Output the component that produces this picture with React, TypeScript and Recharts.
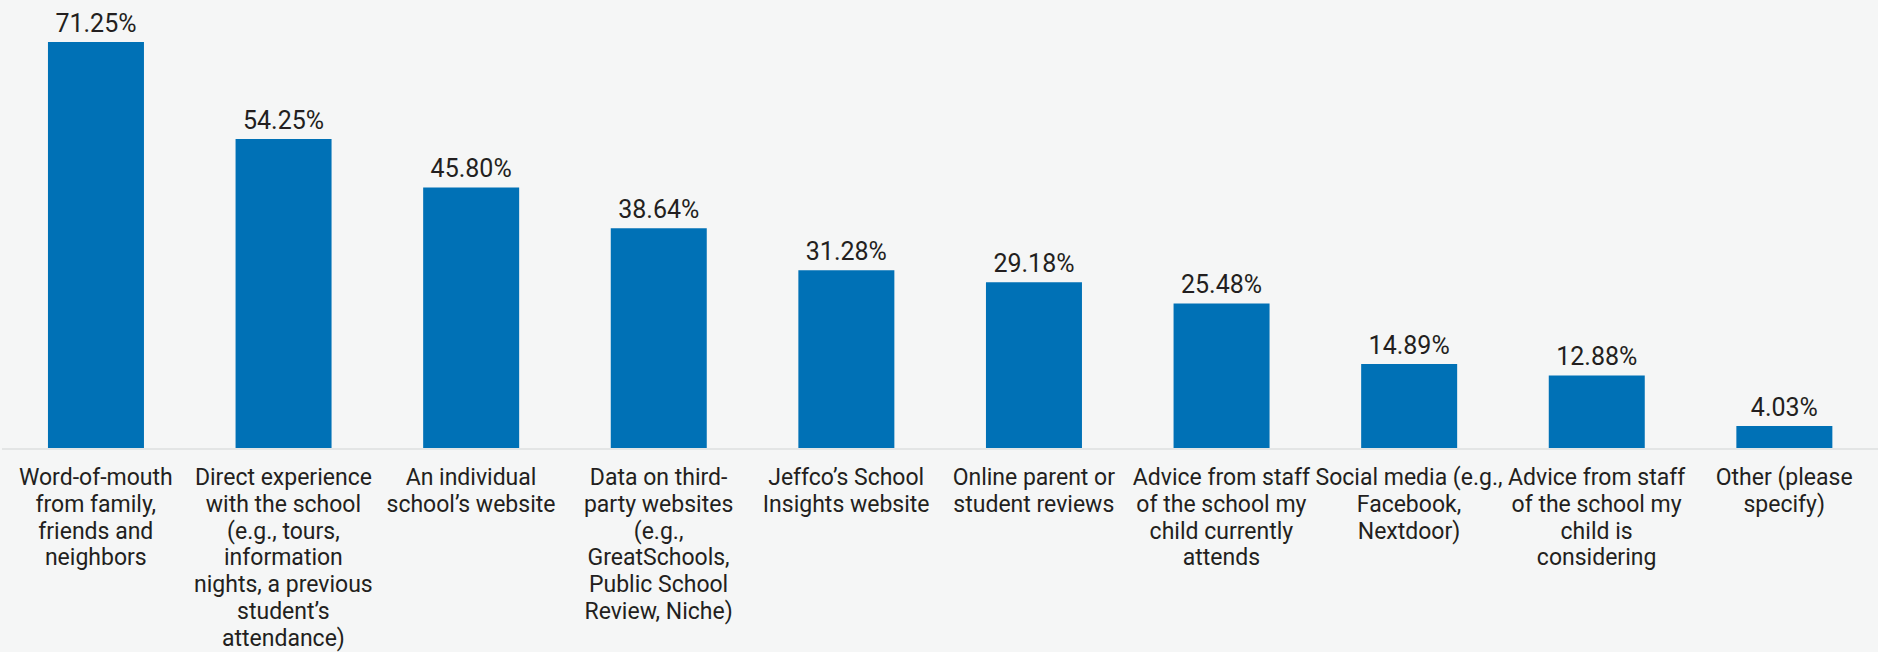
import React from "react";
import { BarChart, Bar, XAxis, YAxis, LabelList } from "recharts";

const categories: string[] = [
  "Word-of-mouth\nfrom family,\nfriends and\nneighbors",
  "Direct experience\nwith the school\n(e.g., tours,\ninformation\nnights, a previous\nstudent’s\nattendance)",
  "An individual\nschool’s website",
  "Data on third-\nparty websites\n(e.g.,\nGreatSchools,\nPublic School\nReview, Niche)",
  "Jeffco’s School\nInsights website",
  "Online parent or\nstudent reviews",
  "Advice from staff\nof the school my\nchild currently\nattends",
  "Social media (e.g.,\nFacebook,\nNextdoor)",
  "Advice from staff\nof the school my\nchild is\nconsidering",
  "Other (please\nspecify)",
];

const percentages: number[] = [71.25, 54.25, 45.8, 38.64, 31.28, 29.18, 25.48, 14.89, 12.88, 4.03];

const data = categories.map((c, i) => ({ category: c, value: percentages[i] }));

const FONT = "Roboto, 'Noto Sans', sans-serif";
const TEXT = "#231f20";

const Tick = (props: any) => {
  const { x, y, payload } = props;
  const lines = String(payload.value).split("\n");
  return (
    <g transform={`translate(${x},${y})`}>
      <text textAnchor="middle" fontFamily={FONT} fontSize={23} fill={TEXT}>
        {lines.map((l, i) => (
          <tspan key={i} x={0} dy={i === 0 ? 28 : 26.8}>
            {l}
          </tspan>
        ))}
      </text>
    </g>
  );
};

export default function App() {
  return (
    <div
      style={{
        position: "absolute",
        left: 0,
        top: 0,
        width: 1878,
        height: 652,
        background: "#f5f6f6",
        overflow: "hidden",
      }}
    >
      <BarChart
        width={1878}
        height={652}
        data={data}
        margin={{ top: 42, right: 0, left: 2, bottom: 0 }}
        barCategoryGap="24.5%"
      >
        <XAxis
          dataKey="category"
          interval={0}
          tickLine={false}
          axisLine={{ stroke: "#e3e5e5", strokeWidth: 2 }}
          height={203}
          tick={<Tick />}
        />
        <YAxis hide domain={[0, 71.25]} />
        <Bar dataKey="value" fill="#0071b6" isAnimationActive={false}>
          <LabelList
            dataKey="value"
            position="top"
            offset={10}
            formatter={(v: any) => `${Number(v).toFixed(2)}%`}
            style={{ fontFamily: FONT, fontSize: 25, fill: TEXT }}
          />
        </Bar>
      </BarChart>
    </div>
  );
}
